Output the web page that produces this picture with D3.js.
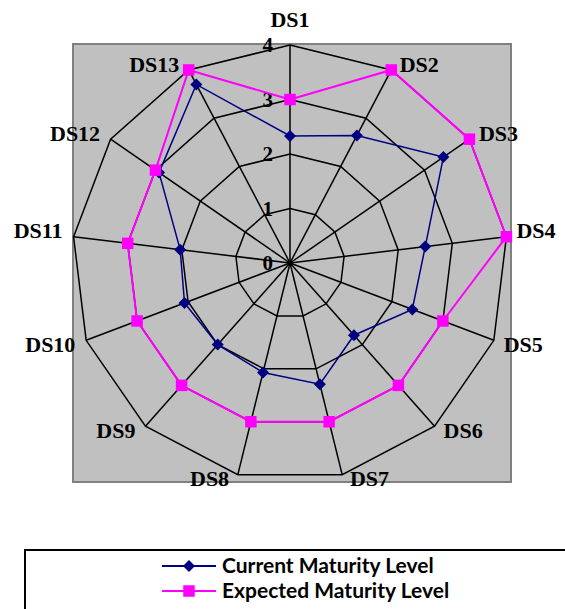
<!DOCTYPE html>
<html>
<head>
<meta charset="utf-8">
<script src="https://cdn.jsdelivr.net/npm/d3@7"></script>
<style>
  body { margin: 0; background: #fff; }
  .axis-label { font-family: "Liberation Serif", "Times New Roman", serif; font-weight: bold; font-size: 22px; }
  .tick-label { font-family: "Liberation Serif", "Times New Roman", serif; font-weight: bold; font-size: 21px; }
  .legend-text { font-family: Lato, "Open Sans", sans-serif; font-weight: bold; font-size: 21px; }
</style>
</head>
<body>
<div id="radar"></div>
<script>
const categories = ['DS1', 'DS2', 'DS3', 'DS4', 'DS5', 'DS6', 'DS7', 'DS8', 'DS9', 'DS10', 'DS11', 'DS12', 'DS13'];
const currentLevel = [2.33, 2.64, 3.42, 2.5, 2.4, 1.77, 2.29, 2.07, 2.0, 2.07, 2.03, 2.92, 3.7];
const expectedLevel = [3, 4, 4, 4, 3, 3, 3, 3, 3, 3, 3, 3, 4];
const tickValues = [0, 1, 2, 3, 4];
const seriesNames = ['Current Maturity Level', 'Expected Maturity Level'];

const width = 565, height = 609;
const cx = 290, cy = 263;
const radius = 218;

const rScale = d3.scaleLinear().domain([0, 4]).range([0, radius]);
const aScale = d3.scaleLinear().domain([0, categories.length]).range([0, 2 * Math.PI]);

const svg = d3.select('#radar')
    .append('svg')
    .attr('width', width)
    .attr('height', height);

// plot area
svg.append('rect')
    .attr('x', 73).attr('y', 44)
    .attr('width', 438).attr('height', 438)
    .attr('fill', '#c0c0c0')
    .attr('stroke', '#808080')
    .attr('stroke-width', 2);

const g = svg.append('g').attr('transform', 'translate(' + cx + ',' + cy + ')');

const px = (i, v) => rScale(v) * Math.sin(aScale(i));
const py = (i, v) => -rScale(v) * Math.cos(aScale(i));

// rings
const ring = d3.lineRadial()
    .angle((d, i) => aScale(i))
    .radius(d => rScale(d))
    .curve(d3.curveLinearClosed);

tickValues.filter(t => t > 0).forEach(t => {
    g.append('path')
        .attr('d', ring(categories.map(() => t)))
        .attr('fill', 'none')
        .attr('stroke', '#000')
        .attr('stroke-width', 1.5);
});

// spokes
g.selectAll('.spoke')
    .data(categories)
    .enter()
    .append('line')
    .attr('x1', 0).attr('y1', 0)
    .attr('x2', (d, i) => px(i, 4))
    .attr('y2', (d, i) => py(i, 4))
    .attr('stroke', '#000')
    .attr('stroke-width', 1.5);

// tick labels
g.selectAll('.tick-label')
    .data(tickValues)
    .enter()
    .append('text')
    .attr('class', 'tick-label')
    .attr('x', -17)
    .attr('y', d => -rScale(d))
    .attr('dy', '0.35em')
    .attr('text-anchor', 'end')
    .text(d => d);

// category labels
g.selectAll('.axis-label')
    .data(categories)
    .enter()
    .append('text')
    .attr('class', 'axis-label')
    .each(function(d, i) {
        const x = px(i, 4), y = py(i, 4);
        const t = d3.select(this);
        if (i === 0) {
            t.attr('x', x).attr('y', y - 26).attr('text-anchor', 'middle');
        } else {
            const right = x > 0;
            const off = 7 + 3 * Math.abs(Math.sin(aScale(i)));
            t.attr('x', right ? x + off : x - off - 1)
             .attr('y', y < 0 ? y - 6 : y + 4)
             .attr('text-anchor', right ? 'start' : 'end');
        }
        t.attr('dy', '0.35em').text(d);
    });

// series
const series = [
    { name: seriesNames[0], values: currentLevel, color: '#000080', width: 1.5, symbol: 'diamond' },
    { name: seriesNames[1], values: expectedLevel, color: '#ff00ff', width: 2, symbol: 'square' }
];

const seriesLine = d3.lineRadial()
    .angle((d, i) => aScale(i))
    .radius(d => rScale(d))
    .curve(d3.curveLinearClosed);

function marker(sel, s) {
    if (s.symbol === 'diamond') {
        sel.attr('d', d3.symbol(d3.symbolSquare, 72)())
           .attr('fill', s.color);
        return 45;
    }
    sel.attr('d', d3.symbol(d3.symbolSquare, 132)())
       .attr('fill', s.color);
    return 0;
}

series.forEach(s => {
    g.append('path')
        .attr('d', seriesLine(s.values))
        .attr('fill', 'none')
        .attr('stroke', s.color)
        .attr('stroke-width', s.width);
    g.selectAll(null)
        .data(s.values)
        .enter()
        .append('path')
        .each(function(d, i) {
            const rot = marker(d3.select(this), s);
            d3.select(this).attr('transform', 'translate(' + px(i, d) + ',' + py(i, d) + ') rotate(' + rot + ')');
        });
});

// legend
svg.append('rect')
    .attr('x', 25).attr('y', 550)
    .attr('width', 560).attr('height', 80)
    .attr('fill', '#fff')
    .attr('stroke', '#000')
    .attr('stroke-width', 2);

series.forEach((s, k) => {
    const ly = 566 + k * 25;
    svg.append('line')
        .attr('x1', 162).attr('x2', 216)
        .attr('y1', ly).attr('y2', ly)
        .attr('stroke', s.color)
        .attr('stroke-width', 2);
    const m = svg.append('path');
    const rot = marker(m, s);
    m.attr('transform', 'translate(189,' + ly + ') rotate(' + rot + ')');
    svg.append('text')
        .attr('class', 'legend-text')
        .attr('x', 222)
        .attr('y', ly)
        .attr('dy', '0.35em')
        .text(s.name);
});
</script>
</body>
</html>
